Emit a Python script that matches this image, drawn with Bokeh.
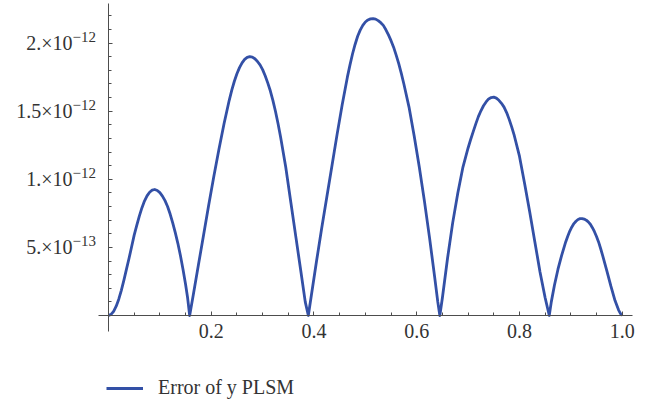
from bokeh.plotting import figure
from bokeh.models import (ColumnDataSource, FixedTicker, Legend, LegendItem,
                          LabelSet, Range1d)
from bokeh.embed import file_html
from bokeh.resources import INLINE

# ---- data (y in units of 1e-12) ----
x_vals = [
    # arch 1
    0.000, 0.005, 0.010, 0.015, 0.020, 0.025, 0.030, 0.035, 0.040, 0.045,
    0.050, 0.055, 0.060, 0.065, 0.070, 0.075, 0.080, 0.085, 0.090, 0.095,
    0.100, 0.105, 0.110, 0.115, 0.120, 0.125, 0.130, 0.135, 0.140, 0.145,
    0.150, 0.154, 0.158,
    # arch 2
    0.165, 0.175, 0.185, 0.195, 0.205, 0.215, 0.225, 0.235, 0.240, 0.245,
    0.250, 0.255, 0.260, 0.265, 0.270, 0.275, 0.280, 0.285, 0.290, 0.295,
    0.300, 0.305, 0.310, 0.315, 0.320, 0.325, 0.330, 0.335, 0.345, 0.355,
    0.365, 0.375, 0.383, 0.389,
    # arch 3
    0.395, 0.405, 0.415, 0.425, 0.435, 0.445, 0.455, 0.465, 0.470, 0.475,
    0.480, 0.485, 0.490, 0.495, 0.500, 0.505, 0.510, 0.515, 0.520, 0.525,
    0.530, 0.535, 0.540, 0.545, 0.550, 0.555, 0.560, 0.565, 0.570, 0.575,
    0.585, 0.595, 0.605, 0.615, 0.625, 0.635, 0.641, 0.645,
    # arch 4
    0.650, 0.660, 0.670, 0.680, 0.690, 0.700, 0.705, 0.710, 0.715, 0.720,
    0.725, 0.730, 0.735, 0.740, 0.745, 0.750, 0.755, 0.760, 0.765, 0.770,
    0.775, 0.780, 0.785, 0.790, 0.800, 0.810, 0.820, 0.830, 0.840, 0.850,
    0.858,
    # arch 5
    0.862, 0.868, 0.875, 0.882, 0.890, 0.894, 0.898, 0.902, 0.906, 0.910,
    0.914, 0.918, 0.922, 0.926, 0.930, 0.934, 0.938, 0.942, 0.946, 0.950,
    0.954, 0.958, 0.962, 0.970, 0.978, 0.986, 0.993, 0.997, 1.000,
]
err_vals = [
    # arch 1
    0.000, 0.008, 0.030, 0.068, 0.120, 0.185, 0.260, 0.340, 0.420, 0.505,
    0.590, 0.662, 0.730, 0.790, 0.840, 0.878, 0.905, 0.920, 0.925, 0.918,
    0.902, 0.877, 0.843, 0.800, 0.745, 0.680, 0.608, 0.530, 0.440, 0.340,
    0.230, 0.130, 0.000,
    # arch 2
    0.150, 0.370, 0.590, 0.810, 1.020, 1.220, 1.410, 1.580, 1.655, 1.720,
    1.775, 1.820, 1.855, 1.880, 1.895, 1.900, 1.897, 1.885, 1.865, 1.840,
    1.805, 1.760, 1.708, 1.650, 1.580, 1.500, 1.410, 1.310, 1.090, 0.830,
    0.570, 0.310, 0.100, 0.000,
    # arch 3
    0.150, 0.400, 0.640, 0.870, 1.100, 1.330, 1.550, 1.750, 1.838, 1.920,
    1.990, 2.050, 2.095, 2.130, 2.155, 2.170, 2.178, 2.180, 2.176, 2.165,
    2.150, 2.130, 2.098, 2.060, 2.018, 1.970, 1.912, 1.850, 1.778, 1.700,
    1.530, 1.320, 1.090, 0.840, 0.570, 0.280, 0.100, 0.000,
    # arch 4
    0.130, 0.420, 0.680, 0.900, 1.090, 1.230, 1.292, 1.350, 1.407, 1.460,
    1.503, 1.540, 1.568, 1.590, 1.600, 1.603, 1.596, 1.580, 1.558, 1.530,
    1.490, 1.440, 1.383, 1.320, 1.170, 0.970, 0.760, 0.540, 0.320, 0.130,
    0.000,
    # arch 5
    0.100, 0.220, 0.340, 0.440, 0.540, 0.582, 0.620, 0.650, 0.675, 0.692,
    0.705, 0.711, 0.712, 0.708, 0.700, 0.687, 0.670, 0.645, 0.615, 0.580,
    0.540, 0.492, 0.440, 0.330, 0.215, 0.110, 0.040, 0.012, 0.000,
]
UNIT = 1e-12

x_major = [0.2, 0.4, 0.6, 0.8, 1.0]
x_labels = ["0.2", "0.4", "0.6", "0.8", "1.0"]
x_minor = [0.05, 0.1, 0.15, 0.25, 0.3, 0.35, 0.45, 0.5, 0.55, 0.65, 0.7,
           0.75, 0.85, 0.9, 0.95]

y_major = [0.5, 1.0, 1.5, 2.0]          # in units of 1e-12
y_mant = ["5.\u00d710", "1.\u00d710", "1.5\u00d710", "2.\u00d710"]
y_exp = ["\u221213", "\u221212", "\u221212", "\u221212"]
y_minor = [0.1, 0.2, 0.3, 0.4, 0.6, 0.7, 0.8, 0.9, 1.1, 1.2, 1.3, 1.4,
           1.6, 1.7, 1.8, 1.9, 2.1, 2.2]

legend_label = "Error of y PLSM"

FONT = "Liberation Serif"
LINE_COLOR = "#3350a6"
AXIS_COLOR = "#4d4d4d"
TEXT_COLOR = "#333333"

W, H = 648, 408
p = figure(width=W, height=H, output_backend="svg", toolbar_location=None,
           x_range=Range1d(-0.21024, 1.05120),
           y_range=Range1d(-0.68282 * UNIT, 2.3128 * UNIT),
           min_border_left=0, min_border_right=0, min_border_top=0,
           min_border_bottom=0)
p.outline_line_color = None
p.grid.visible = False
p.background_fill_color = "white"
p.border_fill_color = "white"

src = ColumnDataSource(dict(x=x_vals, y=[v * UNIT for v in err_vals]))
r = p.line("x", "y", source=src, line_color=LINE_COLOR, line_width=2.8,
           line_join="round")

# x axis (crosses at y = 0)
xa = p.xaxis[0]
xa.fixed_location = 0
xa.bounds = (-0.0195, 1.0195)
xa.ticker = FixedTicker(ticks=x_major, minor_ticks=x_minor)
xa.major_label_overrides = {t: l for t, l in zip(x_major, x_labels)}
xa.axis_line_color = AXIS_COLOR
xa.major_tick_line_color = AXIS_COLOR
xa.minor_tick_line_color = AXIS_COLOR
xa.major_tick_in = 4
xa.major_tick_out = 0
xa.minor_tick_in = 3
xa.minor_tick_out = 0
xa.major_label_text_font = FONT
xa.major_label_text_font_size = "20px"
xa.major_label_text_color = TEXT_COLOR
xa.major_label_standoff = 8

# y axis (crosses at x = 0)
ya = p.yaxis[0]
ya.fixed_location = 0
ya.bounds = (-0.1175 * UNIT, 2.29 * UNIT)
ya.ticker = FixedTicker(ticks=[v * UNIT for v in y_major],
                        minor_ticks=[v * UNIT for v in y_minor])
ya.major_label_overrides = {t * UNIT: m for t, m in zip(y_major, y_mant)}
ya.axis_line_color = AXIS_COLOR
ya.major_tick_line_color = AXIS_COLOR
ya.minor_tick_line_color = AXIS_COLOR
ya.major_tick_in = 4
ya.major_tick_out = 0
ya.minor_tick_in = 3
ya.minor_tick_out = 0
ya.major_label_text_font = FONT
ya.major_label_text_font_size = "20px"
ya.major_label_text_color = TEXT_COLOR
ya.major_label_standoff = 36

# superscript exponents of the y tick labels
lab_src = ColumnDataSource(dict(x=[0.0] * len(y_major),
                                y=[v * UNIT for v in y_major],
                                exp=y_exp))
expo = LabelSet(x="x", y="y", text="exp", source=lab_src,
                x_offset=-36, y_offset=6, text_align="left",
                text_baseline="middle", text_font=FONT,
                text_font_size="15px", text_color=TEXT_COLOR)
p.add_layout(expo)

legend = Legend(items=[LegendItem(label=legend_label, renderers=[r])],
                location=(106, 9), orientation="vertical",
                padding=0, margin=0, spacing=0,
                border_line_alpha=0, background_fill_alpha=0,
                glyph_width=37, glyph_height=20, label_standoff=15,
                label_text_font=FONT, label_text_font_size="20px",
                label_text_color=TEXT_COLOR, label_height=20)
p.add_layout(legend, "center")

open("out.html", "w").write(file_html(p, INLINE))
